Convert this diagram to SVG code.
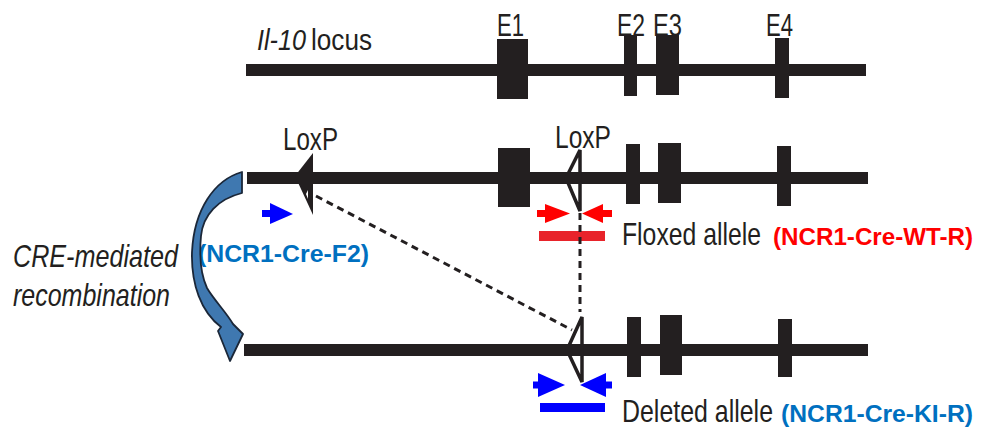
<svg xmlns="http://www.w3.org/2000/svg" width="985" height="429" viewBox="0 0 985 429">
<defs>
<style>
.ink{fill:#231f20}
.lbl{font-family:"Liberation Sans",Arial,sans-serif;fill:#231f20}
.bold{font-family:"Liberation Sans",Arial,sans-serif;font-weight:bold}
.dash{stroke:#231f20;stroke-width:3;stroke-dasharray:7 5;fill:none}
.loxh{fill:#ffffff;stroke:#231f20;stroke-width:3.5;stroke-linejoin:miter}
</style>
</defs>
<rect width="985" height="429" fill="#ffffff"/>

<g id="locus">
<rect class="ink" x="246" y="64" width="620" height="12"/>
<rect class="ink" x="497" y="39" width="31" height="60"/>
<rect class="ink" x="624" y="35" width="13" height="61"/>
<rect class="ink" x="656" y="35" width="23" height="60"/>
<rect class="ink" x="775" y="38" width="14" height="60"/>
<text class="lbl" x="257" y="50" font-size="29" font-style="italic" textLength="49" lengthAdjust="spacingAndGlyphs">Il-10</text>
<text class="lbl" x="311" y="50" font-size="29" textLength="61" lengthAdjust="spacingAndGlyphs">locus</text>
<text class="lbl" x="497" y="36" font-size="31" textLength="27" lengthAdjust="spacingAndGlyphs">E1</text>
<text class="lbl" x="617" y="36" font-size="31" textLength="28" lengthAdjust="spacingAndGlyphs">E2</text>
<text class="lbl" x="653" y="36" font-size="31" textLength="29" lengthAdjust="spacingAndGlyphs">E3</text>
<text class="lbl" x="766" y="36" font-size="31" textLength="27" lengthAdjust="spacingAndGlyphs">E4</text>
</g>

<g id="floxed">
<rect class="ink" x="247" y="172" width="621" height="12"/>
<rect class="ink" x="498" y="148" width="32" height="59"/>
<rect class="ink" x="626" y="144" width="14" height="60"/>
<rect class="ink" x="658" y="143" width="23" height="60"/>
<rect class="ink" x="777" y="146" width="14" height="60"/>
<polygon class="ink" points="313,153 295,176 313,215"/>
<polygon points="308,190 306,194 308,199" fill="#ffffff"/>
<polygon class="loxh" points="580,150 566,178 580,211"/>
<rect class="ink" x="566" y="172" width="14" height="12"/>
<text class="lbl" x="283" y="150" font-size="31" textLength="55" lengthAdjust="spacingAndGlyphs">LoxP</text>
<text class="lbl" x="555" y="148" font-size="31" textLength="56" lengthAdjust="spacingAndGlyphs">LoxP</text>
<text class="lbl" transform="translate(622,245) scale(1,1.24)" x="0" y="0" font-size="25" textLength="139" lengthAdjust="spacingAndGlyphs">Floxed allele</text>
<text class="bold" x="773" y="245" font-size="24" fill="#ff0000" textLength="200" lengthAdjust="spacingAndGlyphs">(NCR1-Cre-WT-R)</text>
</g>

<g id="deleted">
<rect class="ink" x="244" y="344" width="624" height="12"/>
<rect class="ink" x="627" y="317" width="14" height="60"/>
<rect class="ink" x="660" y="315" width="22" height="60"/>
<rect class="ink" x="778" y="319" width="14" height="58"/>
<polygon class="loxh" points="582,317 567,350 582,382"/>
<rect class="ink" x="567" y="344" width="15" height="12"/>
<text class="lbl" transform="translate(622,422) scale(1,1.24)" x="0" y="0" font-size="25" textLength="151" lengthAdjust="spacingAndGlyphs">Deleted allele</text>
<text class="bold" x="781" y="422" font-size="24" fill="#0070c0" textLength="192" lengthAdjust="spacingAndGlyphs">(NCR1-Cre-KI-R)</text>
</g>

<g id="primer-F2">
<rect x="262" y="210" width="9" height="7" fill="#0000ff"/>
<polygon points="270,203 293,214 270,224" fill="#0000ff"/>
<text class="bold" x="198" y="262" font-size="24" fill="#0070c0" textLength="171" lengthAdjust="spacingAndGlyphs">(NCR1-Cre-F2)</text>
</g>

<g id="primers-WT">
<rect x="537" y="210" width="9" height="7" fill="#ff0000"/>
<polygon points="545,204 570,213.5 545,223" fill="#ff0000"/>
<rect x="602" y="210" width="10" height="7" fill="#ff0000"/>
<polygon points="603,204 582,213.5 603,223" fill="#ff0000"/>
<rect x="539" y="231" width="66" height="10" fill="#e8232a"/>
</g>

<g id="primers-KI">
<rect x="533" y="381.5" width="8" height="7" fill="#0000ff"/>
<polygon points="538,373 565,385 538,397" fill="#0000ff"/>
<rect x="605" y="381.5" width="7" height="7" fill="#0000ff"/>
<polygon points="606,373 580,385 606,397" fill="#0000ff"/>
<rect x="540" y="403" width="65" height="9" fill="#0000ff"/>
</g>

<g id="recombination">
<path d="M242,172 C214,180 194,210 192,252 C191,284 201,312 221,327 L218,331 L230,361 L243,334 L233,324 C226,312 214,300 207,288 C201,275 199,258 201,236 C203,215 218,199 242,193 Z" fill="#3f78b0" stroke="#1b2738" stroke-width="1.8" stroke-linejoin="round"/>
<text class="lbl" transform="translate(13,267) scale(1,1.23)" x="0" y="0" font-size="25" font-style="italic" textLength="165" lengthAdjust="spacingAndGlyphs">CRE-mediated</text>
<text class="lbl" transform="translate(13,306) scale(1,1.24)" x="0" y="0" font-size="25" font-style="italic" textLength="157" lengthAdjust="spacingAndGlyphs">recombination</text>
</g>

<g id="connectors">
<line class="dash" x1="316" y1="196" x2="572" y2="330"/>
<line class="dash" x1="580" y1="213" x2="580" y2="312"/>
</g>
</svg>
